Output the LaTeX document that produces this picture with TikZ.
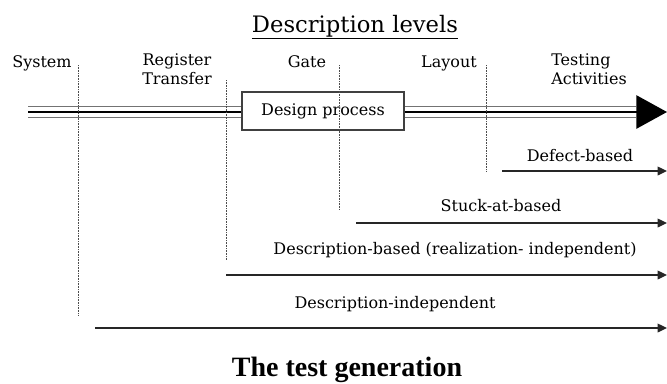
\documentclass[tikz,border=0pt]{standalone}
\usepackage{fontspec}
\setmainfont{DejaVu Serif}
\newfontfamily\timesfont{Liberation Serif}
\usetikzlibrary{arrows.meta,positioning}
\tikzset{
myTitle/.style={
	inner sep=0pt, anchor=base, text=black,
	font=\fontsize{17}{20}\selectfont
}
, myCaption/.style={
	inner sep=0pt, anchor=base, text=black,
	font=\timesfont\bfseries\fontsize{21}{24}\selectfont
}
, myLevel/.style={
	inner sep=0pt, anchor=base, text=black, align=center,
	font=\fontsize{12}{14}\selectfont
}
, myBox/.style={
	rectangle, draw=black!75, fill=white, line width=1pt,
	minimum width=121.5pt, minimum height=28.5pt,
	inner sep=0pt, font=\fontsize{12}{14}\selectfont
}
% lines
, myRail/.style={draw=black!55, line width=0.9pt}
, myRailMid/.style={draw=black, line width=1.2pt}
, myBorder/.style={draw=black!70, line width=0.6pt, dash pattern=on 0.6pt off 0.6pt}
, myTest/.style={-{Triangle[length=7pt,width=6.5pt]}, draw=black!85, line width=1pt}
}

\begin{document}
\begin{tikzpicture}[x=0.75pt,y=-0.75pt]
	\useasboundingbox (0,0) rectangle (667,383);
	% titles
	\node[myTitle] (Title) at (355,32) {\underline{Description levels}};
	\node[myCaption] (Caption) at (347,376) {The test generation};
	% levels
	\node[myLevel] (System) at (42,67) {System};
	\node[myLevel] (Register) at (177,84) {Register\\Transfer};
	\node[myLevel] (Gate) at (307,67) {Gate};
	\node[myLevel] (Layout) at (449,67) {Layout};
	\node[myLevel, align=left, anchor=base west] (Testing) at (551,84) {Testing\\Activities};
	% design process
	\coordinate (Start) at (28,112);
	\coordinate (Head) at (636,112);
	\coordinate (Tip) at (667,112);
	\node[myBox] (Design) at (323,111) {Design process};
	\foreach \s in {-3.9pt,3.9pt}{
		\draw[myRail] ([yshift=\s]Start) -- ([yshift=\s]Start -| Design.west);
		\draw[myRail] ([yshift=\s]Design.east |- Start) -- ([yshift=\s]Head);
	}
	\draw[myRailMid] (Start) -- (Start -| Design.west);
	\draw[myRailMid, -{Triangle[length=23pt,width=25pt]}] (Design.east |- Start) -- (Tip);
	% borders between levels
	\coordinate (B1t) at (78,65);  \coordinate (B1b) at (78,315);
	\coordinate (B2t) at (226,80); \coordinate (B2b) at (226,260);
	\coordinate (B3t) at (339,65); \coordinate (B3b) at (339,210);
	\coordinate (B4t) at (486,65); \coordinate (B4b) at (486,171);
	\foreach \b in {1,...,4}
		\draw[myBorder] (B\b t) -- (B\b b);
	% testing activities
	\coordinate (T1s) at (502,171); \coordinate (T1e) at (667,171);
	\coordinate (T2s) at (356,223); \coordinate (T2e) at (667,223);
	\coordinate (T3s) at (226,275); \coordinate (T3e) at (667,275);
	\coordinate (T4s) at (95,328);  \coordinate (T4e) at (667,328);
	\foreach \t in {1,...,4}
		\draw[myTest] (T\t s) -- (T\t e);
	\node[myLevel] (Defect) at (580,161) {Defect-based};
	\node[myLevel] (Stuck) at (501,211) {Stuck-at-based};
	\node[myLevel] (DescBased) at (455,254) {Description-based (realization- independent)};
	\node[myLevel] (DescIndep) at (395,308) {Description-independent};
\end{tikzpicture}
\end{document}
